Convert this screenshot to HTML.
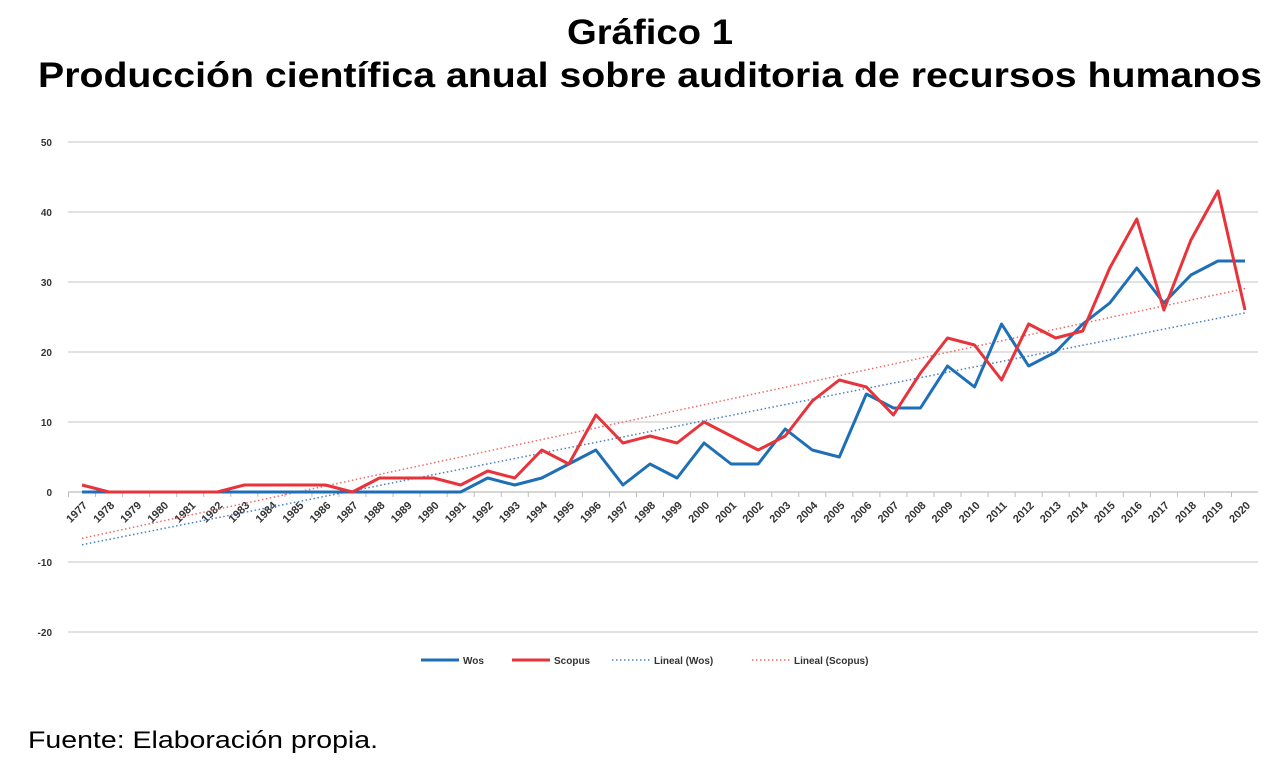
<!DOCTYPE html>
<html><head><meta charset="utf-8"><style>
body{margin:0;background:#fff;font-family:"Liberation Sans",sans-serif;}
</style></head><body>
<svg id="c" width="1278" height="768" style="display:block">
<text x="650" y="44" text-anchor="middle" font-size="35" font-weight="bold" textLength="166" lengthAdjust="spacingAndGlyphs">Gráfico 1</text>
<text x="650" y="87" text-anchor="middle" font-size="35" font-weight="bold" textLength="1224" lengthAdjust="spacingAndGlyphs">Producción científica anual sobre auditoria de recursos humanos</text>
<text x="28" y="748" font-size="24" textLength="350" lengthAdjust="spacingAndGlyphs">Fuente: Elaboración propia.</text>
<g id="g"></g>
</svg>
<script>
const years=[];for(let y=1977;y<=2020;y++)years.push(y);
const wos=[0,0,0,0,0,0,0,0,0,0,0,0,0,0,0,2,1,2,4,6,1,4,2,7,4,4,9,6,5,14,12,12,18,15,24,18,20,24,27,32,27,31,33,33];
const scopus=[1,0,0,0,0,0,1,1,1,1,0,2,2,2,1,3,2,6,4,11,7,8,7,10,8,6,8,13,16,15,11,17,22,21,16,24,22,23,32,39,26,36,43,26];
const yTicks=[50,40,30,20,10,0,-10,-20];
const NS='http://www.w3.org/2000/svg';
const g=document.getElementById('g');
const X=i=>82+i*(1245-82)/(years.length-1);
const Y=v=>492-v*7;
function mk(t,a){const e=document.createElementNS(NS,t);for(const k in a)e.setAttribute(k,a[k]);g.appendChild(e);return e;}
yTicks.forEach(v=>{
 const l=mk('line',{x1:68,x2:1258,y1:Y(v),y2:Y(v),stroke:v===0?'#bdbdbd':'#d0d0d0','stroke-width':1.3});
 
 
 const t=mk('text',{x:52,y:Y(v)+4,'text-anchor':'end','font-size':10,'font-weight':'bold',fill:'#333'});
 t.textContent=v;
 
 
});
years.forEach((yr,i)=>{
 const tk=mk('line',{x1:X(i)-13.5,x2:X(i)-13.5,y1:492,y2:497,stroke:'#bdbdbd'});
 
 
 const t=mk('text',{x:X(i)+6,y:506,'text-anchor':'end','font-size':11,'font-weight':'bold',fill:'#333',transform:`rotate(-45 ${X(i)+6} 506)`});
 t.textContent=yr;
 
 
});
function trend(d){const n=d.length;let sx=0,sy=0,sxy=0,sxx=0;d.forEach((v,i)=>{sx+=i;sy+=v;sxy+=i*v;sxx+=i*i});const b=(n*sxy-sx*sy)/(n*sxx-sx*sx);return [(sy-b*sx)/n,b];}
function tl(d,col,name){const [a,b]=trend(d);const n=d.length-1;
 const l=mk('line',{x1:X(0),y1:Y(a),x2:X(n),y2:Y(a+b*n),stroke:col,'stroke-width':1.5,'stroke-dasharray':'1.5 2.5'});
 
 }
tl(wos,'#4a7fc1','trendline-wos');
tl(scopus,'#f06a6a','trendline-scopus');
function series(d,col,name){
 const p=mk('polyline',{points:d.map((v,i)=>X(i)+','+Y(v)).join(' '),fill:'none',stroke:col,'stroke-width':3,'stroke-linejoin':'round'});
 
 }
series(wos,'#1f6fb8','series-wos');
series(scopus,'#e8333a','series-scopus');
const leg=[['Wos','#1f6fb8',421,false],['Scopus','#e8333a',512,false],['Lineal (Wos)','#4a7fc1',612,true],['Lineal (Scopus)','#f06a6a',752,true]];
leg.forEach(([n,c,x,d])=>{
 const a={x1:x,x2:x+38,y1:660,y2:660,stroke:c,'stroke-width':d?1.5:3};if(d)a['stroke-dasharray']='1.5 2.5';
 const l=mk('line',a);
 
 
 const t=mk('text',{x:x+42,y:664,'font-size':10,'font-weight':'bold',fill:'#333'});t.textContent=n;
 
 
});
</script>
</body></html>
